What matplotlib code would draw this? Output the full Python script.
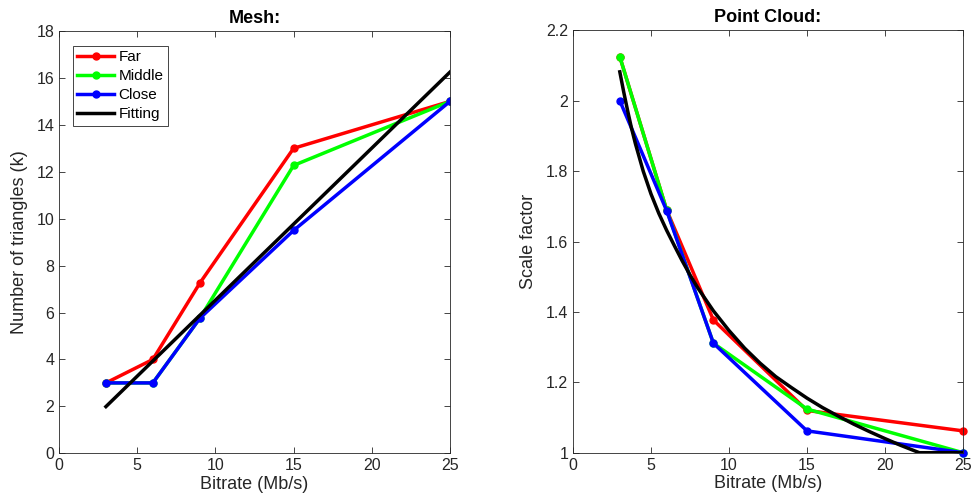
import matplotlib
matplotlib.use("Agg")
import matplotlib.pyplot as plt
from matplotlib.ticker import FuncFormatter

plt.rcParams['font.family'] = ['Liberation Sans', 'DejaVu Sans']

# ---- Data: Mesh ----
bitrate = [3, 6, 9, 15, 25]
mesh_far = [3.0, 4.0, 7.25, 13.0, 15.0]
mesh_middle = [3.0, 3.0, 5.75, 12.27, 15.0]
mesh_close = [3.0, 3.0, 5.75, 9.5, 15.0]
mesh_fit_x = [3, 25]
mesh_fit_y = [1.99, 16.25]

# ---- Data: Point cloud ----
pc_far = [2.125, 1.69, 1.377, 1.12, 1.062]
pc_middle = [2.125, 1.69, 1.311, 1.124, 1.0]
pc_close = [2.0, 1.688, 1.311, 1.062, 1.0]
pc_fit_x = [3, 3.25, 3.5, 3.75, 4, 4.5, 5, 5.5, 6, 6.5, 7, 7.5, 8, 9, 10, 11,
            12, 13, 14, 15, 16, 17, 18, 19, 20, 21, 22.2, 25]
pc_fit_y = [2.082, 2.025, 1.972, 1.922, 1.878, 1.80, 1.735, 1.68, 1.632,
            1.588, 1.545, 1.505, 1.468, 1.403, 1.347, 1.297, 1.254, 1.216,
            1.185, 1.155, 1.128, 1.104, 1.081, 1.060, 1.040, 1.021, 1.0, 1.0]

labels = ['Far', 'Middle', 'Close', 'Fitting']
colors = ['#ff0000', '#00ff00', '#0000ff', '#000000']

fig = plt.figure(figsize=(9.73, 5.04), dpi=100)
W, H = 973, 504
ax1 = fig.add_axes([59 / W, 1 - 453.3 / H, (450 - 59) / W, (453.3 - 31) / H])
ax2 = fig.add_axes([573 / W, 1 - 452.7 / H, (963 - 573) / W, (452.7 - 30.3) / H])

lw = 2.5
ms = 5
tick_color = '#262626'

def style(ax):
    for sp in ax.spines.values():
        sp.set_color('#262626')
        sp.set_linewidth(0.6)
    ax.tick_params(direction='in', top=True, right=True, length=4, width=0.6,
                   colors=tick_color, labelsize=11.5)
    for lab in ax.get_xticklabels() + ax.get_yticklabels():
        lab.set_color(tick_color)

fmt = FuncFormatter(lambda v, p: '%g' % round(v, 6))

# Mesh
for ys, c, lab in zip([mesh_far, mesh_middle, mesh_close], colors[:3], labels[:3]):
    ax1.plot(bitrate, ys, '-o', color=c, lw=lw, ms=ms, label=lab)
ax1.plot(mesh_fit_x, mesh_fit_y, '-', color=colors[3], lw=lw, label=labels[3])
ax1.set_xlim(0, 25)
ax1.set_ylim(0, 18)
ax1.set_xticks([0, 5, 10, 15, 20, 25])
ax1.set_yticks(range(0, 19, 2))
ax1.xaxis.set_major_formatter(fmt)
ax1.yaxis.set_major_formatter(fmt)
ax1.set_xlabel('Bitrate (Mb/s)', fontsize=13, color=tick_color, labelpad=2)
ax1.set_ylabel('Number of triangles (k)', fontsize=13, color=tick_color, labelpad=6)
ax1.set_title('Mesh:', fontsize=13, fontweight='bold', pad=6)
style(ax1)
leg = ax1.legend(loc='upper left', bbox_to_anchor=(0.035, 0.965), fontsize=11,
                 frameon=True, fancybox=False, edgecolor='#262626', framealpha=1,
                 handlelength=2.4, handletextpad=0.3, labelspacing=0.32,
                 borderpad=0.3, borderaxespad=0)
leg.get_frame().set_linewidth(0.6)

# Point cloud
for ys, c, lab in zip([pc_far, pc_middle, pc_close], colors[:3], labels[:3]):
    ax2.plot(bitrate, ys, '-o', color=c, lw=lw, ms=ms, label=lab, clip_on=False)
ax2.plot(pc_fit_x, pc_fit_y, '-', color=colors[3], lw=lw, label=labels[3])
ax2.set_xlim(0, 25)
ax2.set_ylim(1, 2.2)
ax2.set_xticks([0, 5, 10, 15, 20, 25])
ax2.set_yticks([1, 1.2, 1.4, 1.6, 1.8, 2, 2.2])
ax2.xaxis.set_major_formatter(fmt)
ax2.yaxis.set_major_formatter(fmt)
ax2.set_xlabel('Bitrate (Mb/s)', fontsize=13, color=tick_color, labelpad=2)
ax2.set_ylabel('Scale factor', fontsize=13, color=tick_color, labelpad=6)
ax2.set_title('Point Cloud:', fontsize=13, fontweight='bold', pad=6)
style(ax2)

fig.savefig('out.png', dpi=100)
